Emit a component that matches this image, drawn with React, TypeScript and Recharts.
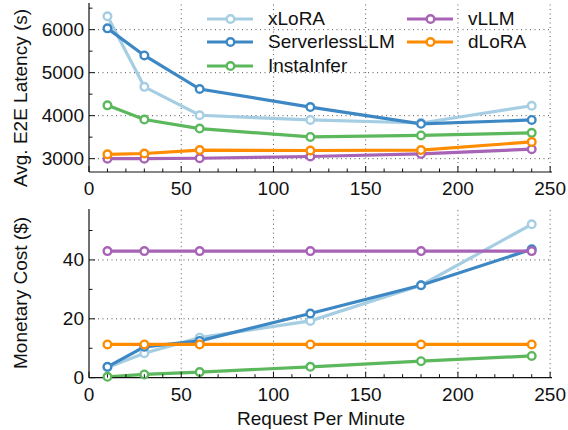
import React from "react";
import { LineChart, Line, XAxis, YAxis, ReferenceLine } from "recharts";

const rpm = [10, 30, 60, 120, 180, 240];
const seriesNames = ["xLoRA", "ServerlessLLM", "InstaInfer", "vLLM", "dLoRA"];
const seriesColors = ["#a6cee3", "#3d88c4", "#5cb85c", "#a763b5", "#ff8c00"];

const latXLoRA = [6310, 4670, 4010, 3900, 3830, 4230];
const latServerless = [6030, 5400, 4620, 4200, 3810, 3900];
const latInsta = [4240, 3910, 3700, 3505, 3540, 3600];
const latVLLM = [3000, 3000, 3010, 3050, 3110, 3220];
const latDLoRA = [3100, 3120, 3200, 3190, 3200, 3390];

const costXLoRA = [3.5, 8.3, 13.6, 19.3, 31.4, 52.1];
const costServerless = [3.7, 10.5, 12.5, 21.8, 31.4, 43.6];
const costInsta = [0.3, 1.1, 1.9, 3.7, 5.6, 7.4];
const costVLLM = [43, 43, 43, 43, 43, 43];
const costDLoRA = [11.3, 11.3, 11.3, 11.3, 11.3, 11.3];

const xTicks = [0, 10, 20, 30, 40, 50, 60, 70, 80, 90, 100, 110, 120, 130, 140, 150, 160, 170, 180, 190, 200, 210, 220, 230, 240, 250];
const xMajor = [50, 100, 150, 200, 250];
const latTicks = [3000, 3500, 4000, 4500, 5000, 5500, 6000, 6500];
const latMajor = [3000, 4000, 5000, 6000];
const costTicks = [0, 10, 20, 30, 40, 50];
const costMajor = [20, 40];

const FONT = "'Liberation Sans', Arial, Helvetica, sans-serif";
const FS = 19;

const latData = rpm.map((r, i) => ({
  rpm: r,
  xLoRA: latXLoRA[i],
  ServerlessLLM: latServerless[i],
  InstaInfer: latInsta[i],
  vLLM: latVLLM[i],
  dLoRA: latDLoRA[i],
}));
const costData = rpm.map((r, i) => ({
  rpm: r,
  xLoRA: costXLoRA[i],
  ServerlessLLM: costServerless[i],
  InstaInfer: costInsta[i],
  vLLM: costVLLM[i],
  dLoRA: costDLoRA[i],
}));

const makeBottomTick = (isMajor: (v: number) => boolean) => (props: any) => {
  const { x, y, payload } = props;
  const v = payload.value;
  const maj = isMajor(v);
  return (
    <g>
      <line x1={x} x2={x} y1={y} y2={y - (maj ? 6 : 3.5)} stroke="#111" strokeWidth={1} />
      {maj && (
        <text x={x} y={y + 16.5} textAnchor="middle" dominantBaseline="central" fontSize={FS} fontFamily={FONT} fill="#111">
          {v}
        </text>
      )}
    </g>
  );
};
const makeTopTick = (isMajor: (v: number) => boolean) => (props: any) => {
  const { x, y, payload } = props;
  const maj = isMajor(payload.value);
  return <line x1={x} x2={x} y1={y} y2={y + (maj ? 6 : 3.5)} stroke="#111" strokeWidth={1} />;
};
const makeLeftTick = (isMajor: (v: number) => boolean) => (props: any) => {
  const { x, y, payload } = props;
  const v = payload.value;
  const maj = isMajor(v);
  return (
    <g>
      <line x1={x} x2={x + (maj ? 6 : 3.5)} y1={y} y2={y} stroke="#111" strokeWidth={1} />
      {maj && (
        <text x={x - 5} y={y} textAnchor="end" dominantBaseline="central" fontSize={FS} fontFamily={FONT} fill="#111">
          {v}
        </text>
      )}
    </g>
  );
};
const makeRightTick = (isMajor: (v: number) => boolean) => (props: any) => {
  const { x, y, payload } = props;
  const maj = isMajor(payload.value);
  return <line x1={x} x2={x - (maj ? 6 : 3.5)} y1={y} y2={y} stroke="#111" strokeWidth={1} />;
};

const xIsMajor = (v: number) => v % 50 === 0;
const latIsMajor = (v: number) => v % 1000 === 0;
const costIsMajor = (v: number) => v % 20 === 0;

const axisLine = { stroke: "#111", strokeWidth: 1.2 };

function renderSeries() {
  return seriesNames.map((name, i) => (
    <Line
      key={name}
      xAxisId="b"
      yAxisId="l"
      type="linear"
      dataKey={name}
      stroke={seriesColors[i]}
      strokeWidth={3.2}
      dot={{ r: 3.8, fill: "#fff", stroke: seriesColors[i], strokeWidth: 2.4 }}
      activeDot={false}
      isAnimationActive={false}
    />
  ));
}

const XDOMAIN: [number, number] = [0, 251];

function Legend() {
  const rows = [
    { idx: 0, x: 207, y: 19 },
    { idx: 1, x: 207, y: 42.3 },
    { idx: 2, x: 207, y: 65.7 },
    { idx: 3, x: 407, y: 19 },
    { idx: 4, x: 407, y: 42.3 },
  ];
  return (
    <>
      {rows.map((r) => (
        <div
          key={r.idx}
          style={{
            position: "absolute",
            left: r.x,
            top: r.y - 12,
            height: 24,
            display: "flex",
            alignItems: "center",
            fontFamily: FONT,
            fontSize: FS,
            color: "#111",
            whiteSpace: "nowrap",
          }}
        >
          <svg width={46} height={24} style={{ display: "block" }}>
            <line x1={0} x2={46} y1={12} y2={12} stroke={seriesColors[r.idx]} strokeWidth={3.2} />
            <circle cx={23.5} cy={12} r={3.8} fill="#fff" stroke={seriesColors[r.idx]} strokeWidth={2.4} />
          </svg>
          <span style={{ marginLeft: 15 }}>{seriesNames[r.idx]}</span>
        </div>
      ))}
    </>
  );
}

export default function App() {
  return (
    <div style={{ position: "absolute", left: 0, top: 0, width: 568, height: 430, background: "#fff", fontFamily: FONT }}>
      <div style={{ position: "absolute", left: 0, top: 0 }}>
        <LineChart width={568} height={200} data={latData} margin={{ top: 3, right: 16, bottom: 0, left: 0 }}>
          <XAxis
            xAxisId="b"
            dataKey="rpm"
            type="number"
            domain={XDOMAIN}
            ticks={xTicks}
            interval={0}
            height={28}
            tickSize={0}
            tickMargin={0}
            tickLine={false}
            axisLine={axisLine}
            tick={makeBottomTick(xIsMajor)}
          />
          <XAxis
            xAxisId="t"
            orientation="top"
            type="number"
            domain={XDOMAIN}
            ticks={xTicks}
            interval={0}
            height={0}
            tickSize={0}
            tickMargin={0}
            tickLine={false}
            axisLine={axisLine}
            tick={makeTopTick(xIsMajor)}
          />
          <YAxis
            yAxisId="l"
            type="number"
            domain={[2690, 6620]}
            ticks={latTicks}
            interval={0}
            width={89}
            tickSize={0}
            tickMargin={0}
            tickLine={false}
            axisLine={axisLine}
            tick={makeLeftTick(latIsMajor)}
            label={{
              content: () => (
                <text x={20} y={98} transform="rotate(-90, 20, 98)" textAnchor="middle" dominantBaseline="central" fontSize={FS} fontFamily={FONT} fill="#111">
                  Avg. E2E Latency (s)
                </text>
              ),
            }}
          />
          <YAxis
            yAxisId="r"
            orientation="right"
            type="number"
            domain={[2690, 6620]}
            ticks={latTicks}
            interval={0}
            width={0}
            tickSize={0}
            tickMargin={0}
            tickLine={false}
            axisLine={axisLine}
            tick={makeRightTick(latIsMajor)}
          />
          {latMajor.map((v) => (
            <ReferenceLine key={"h" + v} xAxisId="b" yAxisId="l" y={v} stroke="#555" strokeWidth={1} strokeDasharray="1 3.5" />
          ))}
          {xMajor.map((v) => (
            <ReferenceLine key={"v" + v} xAxisId="b" yAxisId="l" x={v} stroke="#555" strokeWidth={1} strokeDasharray="1 3.5" />
          ))}
          {renderSeries()}
        </LineChart>
      </div>
      <Legend />
      <div style={{ position: "absolute", left: 0, top: 200 }}>
        <LineChart width={568} height={230} data={costData} margin={{ top: 9, right: 16, bottom: 0, left: 0 }}>
          <XAxis
            xAxisId="b"
            dataKey="rpm"
            type="number"
            domain={XDOMAIN}
            ticks={xTicks}
            interval={0}
            height={52.3}
            tickSize={0}
            tickMargin={0}
            tickLine={false}
            axisLine={axisLine}
            tick={makeBottomTick(xIsMajor)}
            label={{
              content: () => (
                <text x={321} y={218} textAnchor="middle" dominantBaseline="central" fontSize={FS} fontFamily={FONT} fill="#111">
                  Request Per Minute
                </text>
              ),
            }}
          />
          <XAxis
            xAxisId="t"
            orientation="top"
            type="number"
            domain={XDOMAIN}
            ticks={xTicks}
            interval={0}
            height={0}
            tickSize={0}
            tickMargin={0}
            tickLine={false}
            axisLine={axisLine}
            tick={makeTopTick(xIsMajor)}
          />
          <YAxis
            yAxisId="l"
            type="number"
            domain={[0, 57.3]}
            ticks={costTicks}
            interval={0}
            width={89}
            tickSize={0}
            tickMargin={0}
            tickLine={false}
            axisLine={axisLine}
            tick={makeLeftTick(costIsMajor)}
            label={{
              content: () => (
                <text x={20} y={93} transform="rotate(-90, 20, 93)" textAnchor="middle" dominantBaseline="central" fontSize={FS} fontFamily={FONT} fill="#111">
                  Monetary Cost ($)
                </text>
              ),
            }}
          />
          <YAxis
            yAxisId="r"
            orientation="right"
            type="number"
            domain={[0, 57.3]}
            ticks={costTicks}
            interval={0}
            width={0}
            tickSize={0}
            tickMargin={0}
            tickLine={false}
            axisLine={axisLine}
            tick={makeRightTick(costIsMajor)}
          />
          {costMajor.map((v) => (
            <ReferenceLine key={"h" + v} xAxisId="b" yAxisId="l" y={v} stroke="#555" strokeWidth={1} strokeDasharray="1 3.5" />
          ))}
          {xMajor.map((v) => (
            <ReferenceLine key={"v" + v} xAxisId="b" yAxisId="l" x={v} stroke="#555" strokeWidth={1} strokeDasharray="1 3.5" />
          ))}
          {renderSeries()}
        </LineChart>
      </div>
    </div>
  );
}
